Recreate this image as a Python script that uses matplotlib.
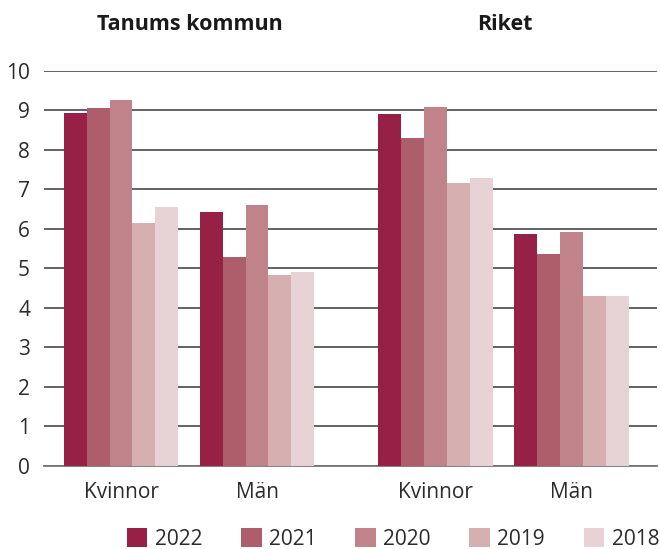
import matplotlib
matplotlib.use("Agg")
import matplotlib.pyplot as plt
import numpy as np

plt.rcParams['font.family'] = ['Open Sans', 'DejaVu Sans']

panels = ["Tanums kommun", "Riket"]
categories = ["Kvinnor", "Män", "Kvinnor", "Män"]
years = ["2022", "2021", "2020", "2019", "2018"]
colors = ["#962046", "#AE5E6B", "#C0838A", "#D6B0B1", "#E7D3D5"]

# values per year: [Tanum Kvinnor, Tanum Män, Riket Kvinnor, Riket Män]
v2022 = [8.93, 6.42, 8.90, 5.87]
v2021 = [9.06, 5.28, 8.30, 5.36]
v2020 = [9.26, 6.60, 9.08, 5.92]
v2019 = [6.14, 4.83, 7.16, 4.30]
v2018 = [6.55, 4.90, 7.28, 4.30]
series = [v2022, v2021, v2020, v2019, v2018]

fig = plt.figure(figsize=(6.6, 5.49), dpi=100)
ax = fig.add_axes([44/660, 83.3/549, (657-44)/660, (465.7-71)/549])

centers = np.array([0.0, 1.0, 2.3125, 3.3125])
w = 0.168
for i, (vals, c, y) in enumerate(zip(series, colors, years)):
    ax.bar(centers + (i - 2) * w, vals, width=w, color=c, label=y, zorder=3)

ax.set_ylim(0, 10)
ax.set_xlim((44-121)/136, (657-121)/136)
ax.set_yticks(range(0, 11))
ax.yaxis.grid(True, color='#555555', linewidth=1.3, zorder=0)
ax.set_axisbelow(True)
for s in ['top', 'right', 'left']:
    ax.spines[s].set_visible(False)
ax.spines['bottom'].set_color('#777777')
ax.spines['bottom'].set_linewidth(1.3)
ax.set_xticks(centers)
ax.set_xticklabels(categories)
ax.tick_params(axis='both', length=0, labelsize=15, colors='#2b2b2b')
ax.tick_params(axis='x', pad=12)
ax.tick_params(axis='y', pad=10)

fig.text(190/660, 1 - 25/549, panels[0], ha='center', va='center',
         fontsize=15.5, fontweight='bold', color='#1a1a1a')
fig.text(505/660, 1 - 25/549, panels[1], ha='center', va='center',
         fontsize=15.5, fontweight='bold', color='#1a1a1a')

leg = fig.legend(loc='center', bbox_to_anchor=(393/660, 1 - 539/549), ncol=5,
                 frameon=False, fontsize=15, handlelength=1.0, handleheight=1.0,
                 handletextpad=0.35, columnspacing=1.85, borderaxespad=0)
for t in leg.get_texts():
    t.set_color('#2b2b2b')

fig.savefig("out.png", dpi=100)
